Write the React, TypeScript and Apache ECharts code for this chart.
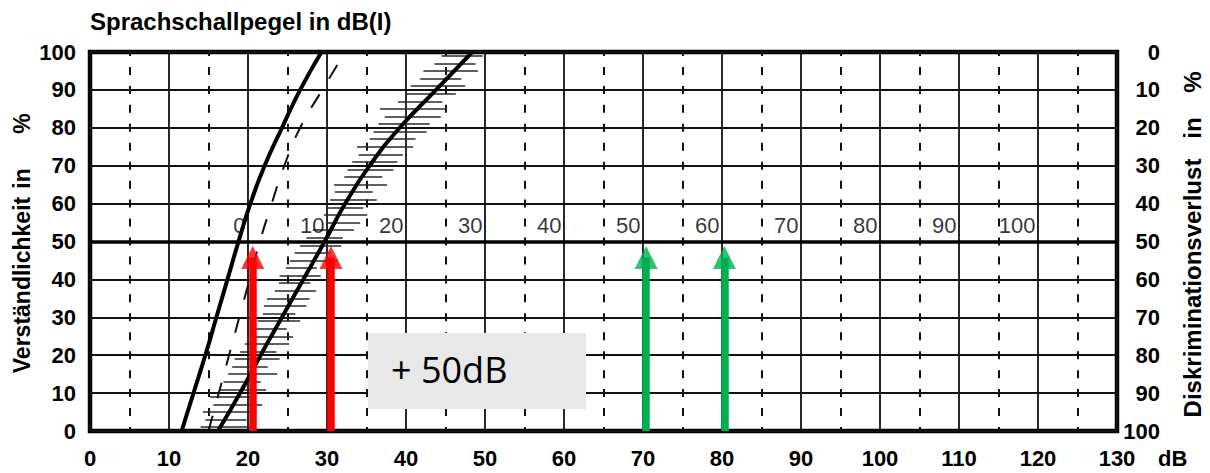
import React, { useEffect, useRef } from "react";
import * as echarts from "echarts";

// ---------- data ----------
const xMin = 0;
const xMax = 130;
const yLevels = [0, 10, 20, 30, 40, 50, 60, 70, 80, 90, 100];
const numbersCurve = [11.6, 13.1, 14.6, 16.0, 17.4, 18.8, 20.3, 22.1, 24.3, 26.6, 29.3];
const normalDashed = [15.0, 16.3, 17.6, 18.9, 20.2, 21.5, 23.0, 24.6, 26.6, 29.4, 32.3];
const wordsCurve = [16.2, 19.0, 21.6, 24.3, 27.0, 29.7, 32.3, 35.4, 39.2, 43.8, 48.4];

const hatchY = [1, 3, 5, 7, 9, 11, 13, 15, 17, 19, 21, 23, 25, 27, 29, 31, 33, 35, 37, 39, 41, 43, 45, 47, 49,
  51, 53, 55, 57, 59, 61, 63, 65, 67, 69, 71, 73, 75, 77, 79, 81, 83, 85, 87, 89, 91, 93, 95, 97, 99];
const hatchLeft = [14.0, 14.6, 14.3, 15.6, 15.2, 16.4, 16.9, 17.5, 18.0, 18.3, 19.0, 19.6, 20.3, 20.8, 21.2,
  21.9, 22.0, 22.4, 23.4, 23.9, 24.0, 24.8, 25.3, 25.9, 26.6, 27.4, 28.2, 30.1, 29.6, 30.0, 30.4, 31.0, 30.9,
  32.2, 32.6, 33.2, 34.0, 33.8, 35.4, 35.9, 36.5, 37.3, 36.7, 39.0, 40.1, 40.6, 41.8, 42.2, 43.6, 44.5];
const hatchRight = [20.5, 19.8, 21.1, 21.8, 20.6, 22.3, 21.6, 23.7, 22.5, 24.0, 23.6, 25.2, 25.7, 24.9, 26.6,
  26.0, 27.4, 27.8, 28.6, 27.9, 29.2, 28.7, 31.3, 30.4, 31.8, 32.0, 33.4, 34.2, 35.1, 34.6, 36.3, 35.8, 37.6,
  37.0, 38.4, 38.9, 39.6, 40.9, 41.2, 42.6, 43.0, 44.4, 45.2, 44.6, 46.3, 47.5, 47.0, 49.1, 48.8, 49.7];

const dashedGridX = [5, 15, 25, 35, 45, 55, 65, 75, 85, 95, 105, 115, 125];
const midLineY = [50];
const lossLabels = ["0", "10", "20", "30", "40", "50", "60", "70", "80", "90", "100"];
const lossLabelX = [20, 30, 40, 50, 60, 70, 80, 90, 100, 110, 120];
const redArrowsX = [20.6, 30.5];
const greenArrowsX = [70.4, 80.3];
const arrowTop = 45.8;

const titleText = "Sprachschallpegel in dB(I)";
const leftName = ["Verständlichkeit", "in", "%"];
const rightName = ["Diskriminationsverlust", "in", "%"];
const unitText = "dB";
const boxText = "+ 50dB";

const FONT = "'Liberation Sans', Arial, Helvetica, sans-serif";

export default function App() {
  const ref = useRef<HTMLDivElement>(null);

  useEffect(() => {
    document.body.style.margin = "0";
    const chart = echarts.init(ref.current as HTMLDivElement, undefined, { renderer: "svg" });

    const labelBase = { fontFamily: FONT, fontWeight: "bold", fontSize: 22, color: "#000" };

    const rotText = (text: string, x: number, y: number, size: number) => ({
      type: "text",
      x,
      y,
      rotation: Math.PI / 2,
      z: 100,
      style: {
        text,
        fill: "#000",
        fontFamily: FONT,
        fontWeight: "bold",
        fontSize: size,
        align: "center",
        verticalAlign: "middle",
      },
    });

    const curves = [
      { xs: numbersCurve, width: 4, dash: null as any, color: "#000" },
      { xs: normalDashed, width: 2, dash: [16, 18], color: "#111" },
      { xs: wordsCurve, width: 4, dash: null as any, color: "#000" },
    ];

    const option: any = {
      animation: false,
      backgroundColor: "#fff",
      grid: {
        left: 90,
        right: 93,
        top: 52,
        bottom: 42,
        show: true,
        borderColor: "#000",
        borderWidth: 4.5,
        backgroundColor: "transparent",
      },
      xAxis: {
        type: "value",
        min: xMin,
        max: xMax,
        interval: 10,
        axisLine: { show: false },
        axisTick: { show: false },
        splitLine: { show: true, lineStyle: { color: "#111", width: 1.8 } },
        axisLabel: { ...labelBase, margin: 16 },
      },
      yAxis: [
        {
          type: "value",
          min: 0,
          max: 100,
          interval: 10,
          position: "left",
          axisLine: { show: false },
          axisTick: { show: false },
          splitLine: { show: true, lineStyle: { color: "#111", width: 1.8 } },
          axisLabel: { ...labelBase, margin: 14, padding: [3, 0, 0, 0] },
        },
        {
          type: "value",
          min: 0,
          max: 100,
          interval: 10,
          inverse: true,
          position: "right",
          axisLine: { show: false },
          axisTick: { show: false },
          splitLine: { show: false },
          axisLabel: { ...labelBase, align: "right", margin: 43, padding: [8, 0, 0, 0] },
        },
      ],
      series: [
        {
          type: "lines",
          coordinateSystem: "cartesian2d",
          silent: true,
          z: 2,
          lineStyle: { color: "#111", width: 2, type: [8, 10.95], dashOffset: 4, opacity: 1 },
          data: dashedGridX.map((x) => ({ coords: [[x, 0], [x, 100]] })),
        },
        {
          type: "lines",
          coordinateSystem: "cartesian2d",
          silent: true,
          z: 3,
          lineStyle: { color: "#2a2a2a", width: 1.7, opacity: 1 },
          data: hatchY.map((y, i) => ({ coords: [[hatchLeft[i], y], [hatchRight[i], y]] })),
        },
        {
          type: "lines",
          coordinateSystem: "cartesian2d",
          silent: true,
          z: 4,
          lineStyle: { color: "#000", width: 3.5, opacity: 1 },
          data: midLineY.map((y) => ({ coords: [[xMin, y], [xMax, y]] })),
        },
        {
          type: "custom",
          z: 5,
          silent: true,
          data: curves.map((c) => [c.xs[0], yLevels[0]]),
          renderItem: (params: any, api: any) => {
            const c = curves[params.dataIndex];
            const pts = yLevels.map((y, i) => api.coord([c.xs[i], y]));
            return {
              type: "polyline",
              shape: { points: pts, smooth: 0.5 },
              style: {
                stroke: c.color,
                lineWidth: c.width,
                lineDash: c.dash,
                fill: "none",
              },
            };
          },
        },
        {
          type: "lines",
          coordinateSystem: "cartesian2d",
          silent: true,
          z: 6,
          lineStyle: { color: "#ff0000", width: 7.5, opacity: 1 },
          data: redArrowsX.map((x) => ({ coords: [[x, 0], [x, arrowTop]] })),
        },
        {
          type: "lines",
          coordinateSystem: "cartesian2d",
          silent: true,
          z: 6,
          lineStyle: { color: "#00b050", width: 7.5, opacity: 1 },
          data: greenArrowsX.map((x) => ({ coords: [[x, 0], [x, arrowTop]] })),
        },
        {
          type: "scatter",
          z: 7,
          symbol: "triangle",
          symbolSize: [23, 23],
          itemStyle: { color: "#ff0000" },
          data: redArrowsX.map((x) => [x, arrowTop]),
        },
        {
          type: "scatter",
          z: 7,
          symbol: "triangle",
          symbolSize: [23, 23],
          itemStyle: { color: "#00b050" },
          data: greenArrowsX.map((x) => [x, arrowTop]),
        },
        {
          type: "scatter",
          z: 8,
          symbolSize: 1,
          itemStyle: { color: "rgba(0,0,0,0)" },
          data: lossLabelX.map((x, i) => [x, 50, i]),
          label: {
            show: true,
            position: [-2, -16],
            align: "right",
            verticalAlign: "middle",
            fontFamily: FONT,
            fontSize: 22,
            color: "#000",
            formatter: (p: any) => lossLabels[p.data[2]],
          },
        },
      ],
      graphic: [
        {
          type: "text",
          x: 90,
          y: 21,
          z: 100,
          style: {
            text: titleText,
            fill: "#000",
            fontFamily: FONT,
            fontWeight: "bold",
            fontSize: 24,
            align: "left",
            verticalAlign: "middle",
          },
        },
        rotText(leftName[0], 22, 285, 23),
        rotText(leftName[1], 22, 178.5, 23),
        rotText(leftName[2], 22, 123.5, 23),
        rotText(rightName[0], 1192, 288, 24),
        rotText(rightName[1], 1192, 128, 24),
        rotText(rightName[2], 1192, 82, 24),
        {
          type: "text",
          x: 1158,
          y: 458,
          z: 100,
          style: {
            text: unitText,
            fill: "#000",
            fontFamily: FONT,
            fontWeight: "bold",
            fontSize: 22,
            align: "left",
            verticalAlign: "middle",
          },
        },
        {
          type: "rect",
          z: 100,
          shape: { x: 368, y: 333, width: 218, height: 76 },
          style: { fill: "#e8e8e8" },
        },
        {
          type: "text",
          x: 391,
          y: 369,
          z: 101,
          style: {
            text: boxText,
            fill: "#000",
            fontFamily: "'Open Sans', 'Noto Sans', sans-serif",
            fontSize: 36,
            align: "left",
            verticalAlign: "middle",
          },
        },
      ],
    };

    chart.setOption(option);
    return () => chart.dispose();
  }, []);

  return (
    <div
      ref={ref}
      style={{ position: "absolute", left: 0, top: 0, width: 1210, height: 473 }}
    />
  );
}
